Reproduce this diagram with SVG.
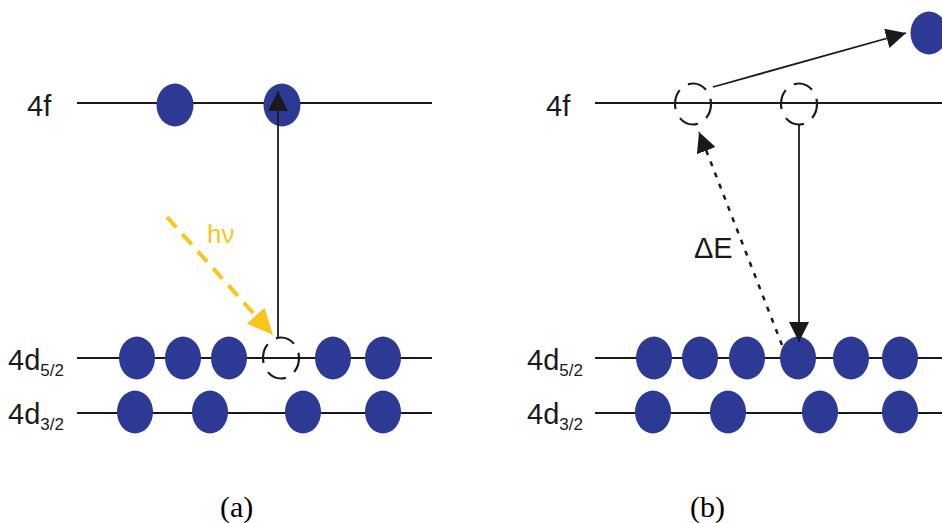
<svg xmlns="http://www.w3.org/2000/svg" width="942" height="523" viewBox="0 0 942 523">
  <style>
    .level { stroke: #1a1a1a; stroke-width: 2.2; fill: none; }
    .e { fill: #2c3a96; }
    .hole { fill: none; stroke: #1a1a1a; stroke-width: 2.2; stroke-dasharray: 20 10; stroke-dashoffset: 5; }
    .lbl { font-family: "Liberation Sans", Arial, sans-serif; font-size: 29px; fill: #1a1a1a; }
    .sub { font-size: 17px; }
    .cap { font-family: "Liberation Serif", "Times New Roman", serif; font-size: 30px; fill: #000; }
    .arrow { stroke: #1a1a1a; stroke-width: 1.8; fill: none; }
  </style>
  <defs>
    <marker id="headBig" viewBox="0 0 20 20" refX="20" refY="10" markerWidth="20" markerHeight="20" markerUnits="userSpaceOnUse" orient="auto">
      <path d="M0,0 L20,10 L0,20 z" fill="#1a1a1a"/>
    </marker>
    <marker id="headYellow" viewBox="0 0 26 24" refX="26" refY="12" markerWidth="26" markerHeight="24" markerUnits="userSpaceOnUse" orient="auto">
      <path d="M0,0 L26,12 L0,24 z" fill="#f9c51f"/>
    </marker>
  </defs>

  <!-- panel (a) -->
  <g id="panel-a">
    <g id="a-levels">
      <line class="level" x1="77" y1="103" x2="432" y2="103"/>
      <line class="level" x1="77" y1="358" x2="432" y2="358"/>
      <line class="level" x1="77" y1="413" x2="432" y2="413"/>
    </g>
    <g id="a-labels">
      <text class="lbl" x="27" y="116">4f</text>
      <text class="lbl" x="8" y="370">4d<tspan class="sub" dy="6">5/2</tspan></text>
      <text class="lbl" x="8" y="424">4d<tspan class="sub" dy="6">3/2</tspan></text>
    </g>
    <g id="a-4f-electrons">
      <ellipse class="e" cx="175" cy="105" rx="18.5" ry="21.5"/>
      <ellipse class="e" cx="282" cy="105" rx="18.5" ry="21.5"/>
    </g>
    <g id="a-4d52-electrons">
      <ellipse class="e" cx="137" cy="358" rx="18" ry="21.5"/>
      <ellipse class="e" cx="183" cy="358" rx="18" ry="21.5"/>
      <ellipse class="e" cx="229" cy="358" rx="18" ry="21.5"/>
      <ellipse class="hole" cx="281" cy="358" rx="18" ry="20.5"/>
      <ellipse class="e" cx="333" cy="358" rx="18" ry="21.5"/>
      <ellipse class="e" cx="383" cy="358" rx="18" ry="21.5"/>
    </g>
    <g id="a-4d32-electrons">
      <ellipse class="e" cx="135" cy="412" rx="18" ry="21.5"/>
      <ellipse class="e" cx="210" cy="412" rx="18" ry="21.5"/>
      <ellipse class="e" cx="303" cy="412" rx="18" ry="21.5"/>
      <ellipse class="e" cx="383" cy="412" rx="18" ry="21.5"/>
    </g>
    <text id="a-photon-label" x="207" y="243" font-family="Liberation Sans, Arial, sans-serif" font-size="26" fill="#f9c51f">hν</text>
    <text id="a-caption" class="cap" x="220" y="517">(a)</text>
  </g>

  <!-- panel (b) -->
  <g id="panel-b">
    <g id="b-levels">
      <line class="level" x1="595" y1="103" x2="942" y2="103"/>
      <line class="level" x1="595" y1="358" x2="942" y2="358"/>
      <line class="level" x1="595" y1="413" x2="942" y2="413"/>
    </g>
    <g id="b-labels">
      <text class="lbl" x="546" y="116">4f</text>
      <text class="lbl" x="527" y="370">4d<tspan class="sub" dy="6">5/2</tspan></text>
      <text class="lbl" x="527" y="424">4d<tspan class="sub" dy="6">3/2</tspan></text>
    </g>
    <g id="b-4f-holes">
      <ellipse class="hole" cx="693" cy="104" rx="18" ry="20.5"/>
      <ellipse class="hole" cx="799" cy="104" rx="18" ry="20.5"/>
    </g>
    <ellipse id="b-ejected" class="e" cx="929" cy="33" rx="18.5" ry="21.5"/>
    <g id="b-4d52-electrons">
      <ellipse class="e" cx="654" cy="358" rx="18" ry="21.5"/>
      <ellipse class="e" cx="700" cy="358" rx="18" ry="21.5"/>
      <ellipse class="e" cx="747" cy="358" rx="18" ry="21.5"/>
      <ellipse class="e" cx="798" cy="358" rx="18" ry="21.5"/>
      <ellipse class="e" cx="851" cy="358" rx="18" ry="21.5"/>
      <ellipse class="e" cx="900" cy="358" rx="18" ry="21.5"/>
    </g>
    <g id="b-4d32-electrons">
      <ellipse class="e" cx="653" cy="412" rx="18" ry="21.5"/>
      <ellipse class="e" cx="728" cy="412" rx="18" ry="21.5"/>
      <ellipse class="e" cx="820" cy="412" rx="18" ry="21.5"/>
      <ellipse class="e" cx="900" cy="412" rx="18" ry="21.5"/>
    </g>
    <text id="b-energy-label" class="lbl" x="694" y="258">ΔE</text>
    <text id="b-caption" class="cap" x="690" y="517">(b)</text>
  </g>

  <!-- transitions -->
  <g id="connectors">
    <line class="arrow" x1="278" y1="338" x2="278" y2="91" marker-end="url(#headBig)"/>
    <line x1="167" y1="217" x2="273" y2="335" stroke="#f9c51f" stroke-width="4" stroke-dasharray="14 9" marker-end="url(#headYellow)"/>
    <line class="arrow" x1="713" y1="87" x2="906" y2="33" marker-end="url(#headBig)"/>
    <line class="arrow" x1="799" y1="124" x2="799" y2="342" marker-end="url(#headBig)"/>
    <line x1="782" y1="345" x2="699" y2="132" stroke="#1a1a1a" stroke-width="2.5" stroke-dasharray="5 7" marker-end="url(#headBig)"/>
  </g>
</svg>
